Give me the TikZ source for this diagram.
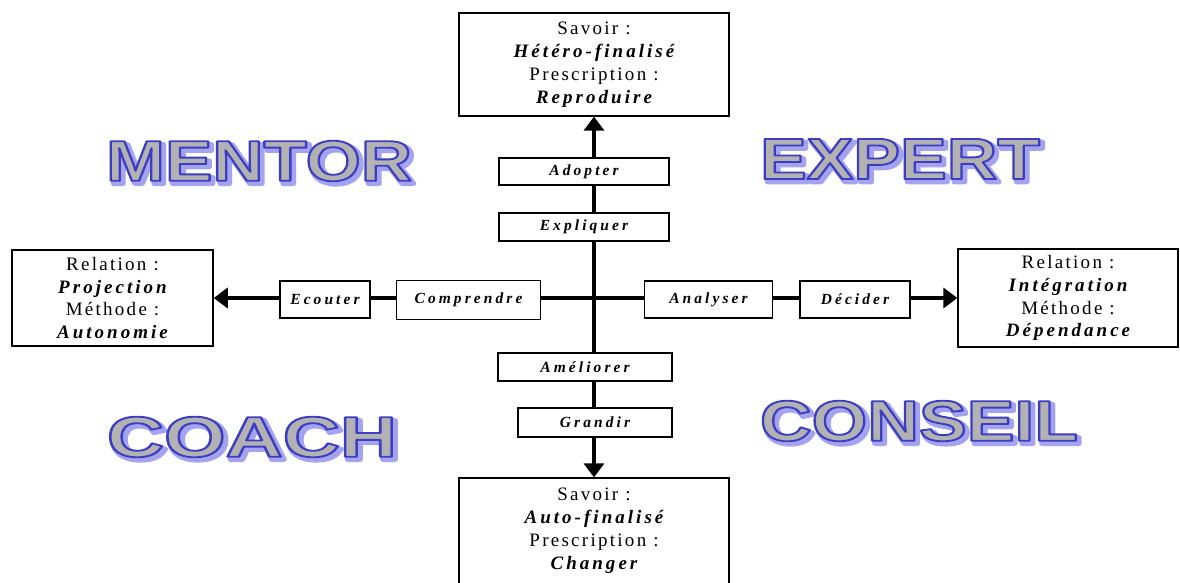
\documentclass[tikz,border=0pt]{standalone}
\usepackage{fontspec}
\usepackage{graphicx}
\setmainfont{Liberation Serif}
\newfontfamily\spaced{Liberation Serif}[LetterSpace=12]
\newfontfamily\kwspaced{Liberation Serif}[LetterSpace=16]
\newfontfamily\widespaced{Liberation Serif}[LetterSpace=20]
\newfontfamily\roleface{Liberation Sans}
\usetikzlibrary{arrows.meta, positioning, backgrounds}

\definecolor{rolegray}{HTML}{B2B2B2}
\definecolor{roleedge}{HTML}{3C3CC4}
\definecolor{roleglow}{HTML}{A4A4F0}

\newcommand\kw[1]{{\kwspaced\bfseries\itshape #1}}
% outlined text: stroke width, stroke colour (rgb), text
\newcommand\outlined[3]{\special{pdf:literal direct 2 Tr 1 j #1 w #2 RG}#3\special{pdf:literal direct 0 Tr 0 j}}

% big role word: position, width, text
\newcommand\roleword[3]{%
  \node[role, text=roleglow] (#1-glow) at ([shift={(3,3)}]#1)
      {\outlined{3.2}{0.64 0.64 0.94}{\resizebox{#2}{1cm}{#3}}};
  \node[role, text=rolegray] (#1-txt) at (#1)
      {\outlined{1.3}{0.24 0.24 0.77}{\resizebox{#2}{1cm}{#3}}};
}

\begin{document}
\begin{tikzpicture}[x=0.025cm, y=-0.025cm,
        bigbox/.style  = {draw, fill=white, line width=0.9pt, align=center, inner sep=0pt,
                          font=\spaced\fontsize{13.5}{16.3}\selectfont},
        stepbox/.style = {draw, fill=white, line width=0.9pt, inner sep=0pt,
                          font=\widespaced\bfseries\itshape\fontsize{11}{13}\selectfont},
        link/.style    = {line width=2.6pt},
        role/.style    = {inner sep=0pt, font=\roleface\bfseries\fontsize{40}{40}\selectfont},
        >={Triangle[length=0.35cm, width=0.5cm]}]

    \useasboundingbox (0,0) rectangle (1180,583);

    % the four outcome boxes
    \node[bigbox, minimum width=6.75cm, minimum height=2.575cm] (savtop) at (594,64.5)
        {Savoir :\\ \kw{Hétéro-finalisé}\\ Prescription :\\ \kw{Reproduire}};
    \node[bigbox, minimum width=6.75cm, minimum height=2.65cm] (savbot) at (594,531)
        {Savoir :\\ \kw{Auto-finalisé}\\ Prescription :\\ \kw{Changer}};
    \node[bigbox, minimum width=5.03cm, minimum height=2.4cm] (relleft) at (112.5,298)
        {Relation :\\ \kw{Projection}\\ Méthode :\\ \kw{Autonomie}};
    \node[bigbox, minimum width=5.5cm, minimum height=2.45cm] (relright) at (1068,298)
        {Relation :\\ \kw{Intégration}\\ Méthode :\\ \kw{Dépendance}};

    % the steps on the axes
    \node[stepbox, minimum width=4.25cm, minimum height=0.675cm] (adopter)    at (584,171.5) {Adopter};
    \node[stepbox, minimum width=4.25cm, minimum height=0.7cm]   (expliquer)  at (584,227)   {Expliquer};
    \node[stepbox, minimum width=4.35cm, minimum height=0.7cm]   (ameliorer)  at (585,367)   {Améliorer};
    \node[stepbox, minimum width=3.85cm, minimum height=0.72cm]  (grandir)    at (595,422.5) {Grandir};
    \node[stepbox, minimum width=2.25cm, minimum height=0.92cm]  (ecouter)    at (325,299.5) {Ecouter};
    \node[stepbox, minimum width=3.6cm,  minimum height=0.97cm]  (comprendre) at (468.5,300) {Comprendre};
    \node[stepbox, minimum width=3.2cm,  minimum height=0.92cm]  (analyser)   at (708.5,299.5) {Analyser};
    \node[stepbox, minimum width=2.75cm, minimum height=0.92cm]  (decider)    at (855,299.5) {Décider};

    % the four roles
    \coordinate (mentor)  at (259,161);
    \coordinate (expert)  at (900,159);
    \coordinate (coach)   at (252,437);
    \coordinate (conseil) at (919,421);
    \roleword{mentor}{7.65cm}{MENTOR}
    \roleword{expert}{7.0cm}{EXPERT}
    \roleword{coach}{7.25cm}{COACH}
    \roleword{conseil}{7.95cm}{CONSEIL}

    % axes from the centre, behind the step boxes
    \coordinate (ctr) at (594,298);
    \begin{scope}[on background layer]
    \foreach \target in {savtop,savbot,relleft,relright}
        \draw[link, ->] (ctr) -- (\target);
    \end{scope}

\end{tikzpicture}
\end{document}
